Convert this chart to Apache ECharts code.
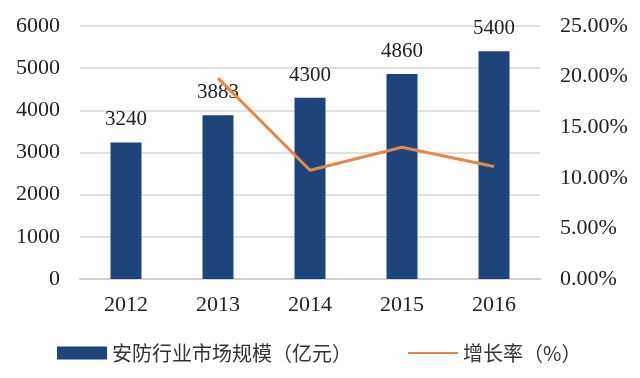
<!DOCTYPE html>
<html>
<head>
<meta charset="utf-8">
<script src="https://cdn.jsdelivr.net/npm/echarts@6/dist/echarts.min.js"></script>
<style>
  html, body { margin: 0; padding: 0; background: #fff; }
  #chart { width: 640px; height: 378px; }
</style>
</head>
<body>
<div id="chart"></div>
<script>
var years = ['2012', '2013', '2014', '2015', '2016'];
var marketSize = [3240, 3883, 4300, 4860, 5400];
var growthRate = [null, 19.85, 10.74, 13.02, 11.11];
var leftTicks = { min: 0, max: 6000, interval: 1000 };
var rightTicks = { min: 0, max: 25, interval: 5 };

var serif = '"Liberation Serif", "Times New Roman", serif';
var cjk = '"Noto Sans CJK SC", sans-serif';

var myChart = echarts.init(document.getElementById('chart'));

var option = {
  animation: false,
  grid: {
    left: 80,
    right: 100,
    top: 26,
    bottom: 99
  },
  legend: {
    bottom: 10,
    left: 52,
    itemGap: 55,
    textStyle: { fontFamily: cjk, fontSize: 20, color: '#333' },
    data: [
      { name: '安防行业市场规模（亿元）', icon: 'rect' },
      { name: '增长率（%）', itemStyle: { opacity: 0 } }
    ],
    itemWidth: 50,
    itemHeight: 13
  },
  xAxis: {
    type: 'category',
    data: years,
    axisTick: { show: false },
    axisLine: { lineStyle: { color: '#d0d0d0', width: 2 } },
    axisLabel: { fontFamily: serif, fontSize: 22, color: '#222', margin: 15 }
  },
  yAxis: [
    {
      type: 'value',
      min: leftTicks.min,
      max: leftTicks.max,
      interval: leftTicks.interval,
      axisLine: { show: false },
      axisTick: { show: false },
      splitLine: { lineStyle: { color: '#d6d6d6', width: 1.5 } },
      axisLabel: {
        fontFamily: serif, fontSize: 22, color: '#222', margin: 20,
        formatter: function (v) { return String(v); }
      }
    },
    {
      type: 'value',
      min: rightTicks.min,
      max: rightTicks.max,
      interval: rightTicks.interval,
      axisLine: { show: false },
      axisTick: { show: false },
      splitLine: { show: false },
      axisLabel: {
        fontFamily: serif, fontSize: 22, color: '#222', margin: 20,
        formatter: function (v) { return v.toFixed(2) + '%'; }
      }
    }
  ],
  series: [
    {
      name: '安防行业市场规模（亿元）',
      type: 'bar',
      data: marketSize,
      barWidth: 31,
      itemStyle: { color: '#1f4479' },
      label: {
        show: true,
        position: 'top',
        distance: 12,
        fontFamily: serif,
        fontSize: 21,
        color: '#222'
      }
    },
    {
      name: '增长率（%）',
      type: 'line',
      yAxisIndex: 1,
      data: growthRate,
      symbol: 'none',
      lineStyle: { color: '#e3874a', width: 3 },
      itemStyle: { color: '#e3874a' }
    }
  ]
};

myChart.setOption(option);
</script>
</body>
</html>
